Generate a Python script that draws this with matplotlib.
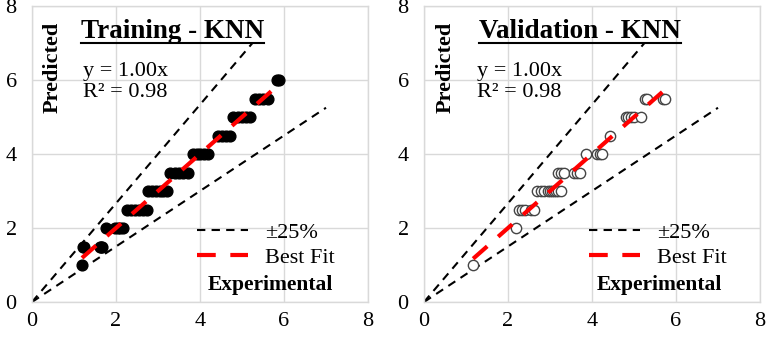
import matplotlib
matplotlib.use("Agg")
import matplotlib.pyplot as plt
import numpy as np

plt.rcParams['font.family'] = ['Liberation Serif', 'DejaVu Serif']

# ---- data ----
train_x = [1.19, 1.21, 1.24, 1.62, 1.64, 1.67, 1.76,
           1.98, 2.05, 2.1, 2.17,
           2.26, 2.35, 2.45, 2.55, 2.65, 2.74,
           2.76, 2.85, 2.95, 3.05, 3.12, 3.21,
           3.29, 3.4, 3.5, 3.6, 3.71,
           3.83, 3.92, 4.0, 4.1, 4.19,
           4.43, 4.52, 4.62, 4.71,
           4.79, 4.9, 5.0, 5.1, 5.19,
           5.31, 5.4, 5.5, 5.62,
           5.84, 5.88]
train_y = [1.0, 1.5, 1.5, 1.5, 1.5, 1.5, 2.0,
           2.0, 2.0, 2.0, 2.0,
           2.5, 2.5, 2.5, 2.5, 2.5, 2.5,
           3.0, 3.0, 3.0, 3.0, 3.0, 3.0,
           3.5, 3.5, 3.5, 3.5, 3.5,
           4.0, 4.0, 4.0, 4.0, 4.0,
           4.5, 4.5, 4.5, 4.5,
           5.0, 5.0, 5.0, 5.0, 5.0,
           5.5, 5.5, 5.5, 5.5,
           6.0, 6.0]

val_x = [1.17, 2.2,
         2.25, 2.33, 2.4, 2.55, 2.62,
         2.7, 2.78, 2.85, 2.95, 3.0, 3.05, 3.1, 3.15, 3.2, 3.25,
         3.2, 3.27, 3.33, 3.58, 3.65, 3.72,
         3.85, 4.12, 4.18, 4.24,
         4.43,
         4.8, 4.86, 4.92, 5.0, 5.17,
         5.27, 5.32, 5.68, 5.73]
val_y = [1.0, 2.0,
         2.5, 2.5, 2.5, 2.5, 2.5,
         3.0, 3.0, 3.0, 3.0, 3.0, 3.0, 3.0, 3.0, 3.0, 3.0,
         3.5, 3.5, 3.5, 3.5, 3.5, 3.5,
         4.0, 4.0, 4.0, 4.0,
         4.5,
         5.0, 5.0, 5.0, 5.0, 5.0,
         5.5, 5.5, 5.5, 5.5]

upper_x = [0, 5.25]
upper_y = [0, 7.0]
lower_x = [0, 7.0]
lower_y = [0, 5.25]
slope = 1.00
r2 = 0.98
ticks = [0, 2, 4, 6, 8]
titles = ["Training - KNN", "Validation - KNN"]

fig = plt.figure(figsize=(7.68, 3.38), dpi=100)
ax1 = fig.add_axes([32/768, 36/338, 336/768, 296/338])
ax2 = fig.add_axes([424/768, 36/338, 336/768, 296/338])

grid_c = '#d9d9d9'

def setup(ax, title, title_x, eq_x, pred_x, exp_x):
    ax.set_xlim(0, 8)
    ax.set_ylim(0, 8)
    ax.set_xticks(ticks)
    ax.set_yticks(ticks)
    ax.grid(True, color=grid_c, lw=1.0)
    ax.set_axisbelow(True)
    for s in ax.spines.values():
        s.set_color(grid_c)
        s.set_linewidth(1.0)
    ax.tick_params(length=0, labelsize=16, pad=11)
    ax.tick_params(axis='x', pad=7)
    ax.plot(upper_x, upper_y, color='black', lw=1.5, dashes=(4, 3), label='±25%')
    ax.plot(lower_x, lower_y, color='black', lw=1.5, dashes=(4, 3))
    t = ax.text(title_x, 0.915, title, transform=ax.transAxes, ha='center', va='center',
                fontsize=19.5, fontweight='bold')
    ax.text(eq_x, 0.779, 'y = %.2fx' % slope, transform=ax.transAxes, ha='left', va='center', fontsize=16)
    ax.text(eq_x, 0.709, 'R² = %.2f' % r2, transform=ax.transAxes, ha='left', va='center', fontsize=16)
    ax.text(pred_x, 0.794, 'Predicted', transform=ax.transAxes, rotation=90, ha='center', va='center',
            fontsize=16, fontweight='bold')
    ax.text(exp_x, 0.057, 'Experimental', transform=ax.transAxes, ha='center', va='center',
            fontsize=15.5, fontweight='bold')
    return t

t1 = setup(ax1, titles[0], 0.418, 0.152, 0.0625, 0.708)
t2 = setup(ax2, titles[1], 0.464, 0.158, 0.065, 0.702)

ax1.scatter(train_x, train_y, s=60, color='black', zorder=3)
ax2.scatter(val_x, val_y, s=55, facecolors='white', edgecolors='#444444', linewidths=1.0, zorder=3)

for ax, xs in ((ax1, train_x), (ax2, val_x)):
    fx = np.array([min(xs), max(xs)])
    ax.plot(fx, slope * fx, color='red', lw=3, dashes=(4.5, 3.5), zorder=4, label='Best Fit')
    h, l = ax.get_legend_handles_labels()
    ax.legend(h, l, loc='lower left', bbox_to_anchor=(0.445, 0.0625), frameon=False, fontsize=16,
              handlelength=2.3, handletextpad=0.75, labelspacing=0.2, borderpad=0.2)

# underline titles
fig.canvas.draw()
r = fig.canvas.get_renderer()
for ax, t in ((ax1, t1), (ax2, t2)):
    bb = t.get_window_extent(r).transformed(ax.transAxes.inverted())
    ax.plot([bb.x0, bb.x1], [bb.y0 + 0.002, bb.y0 + 0.002], transform=ax.transAxes,
            color='black', lw=1.5, clip_on=False)

fig.savefig('out.png', dpi=100)
